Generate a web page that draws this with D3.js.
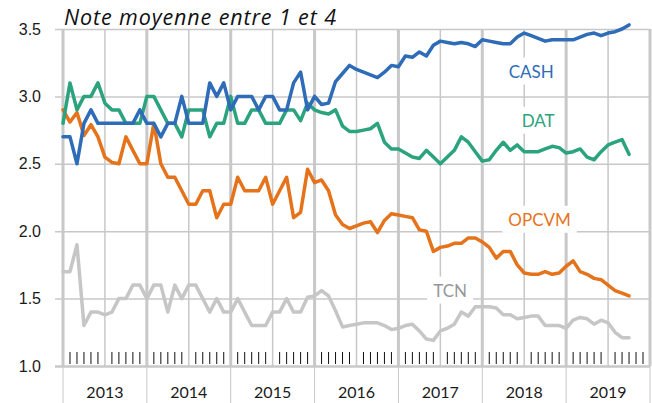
<!DOCTYPE html>
<html>
<head>
<meta charset="utf-8">
<script src="https://cdn.jsdelivr.net/npm/d3@7"></script>
<style>
  body { margin: 0; background: #fff; }
  svg { display: block; font-family: Lato, "Open Sans", sans-serif; }
</style>
</head>
<body>
<div id="chart"></div>
<script>
// monthly notes, Jan 2013 -> Oct 2019
var startYear = 2013;
var years = ['2013', '2014', '2015', '2016', '2017', '2018', '2019'];
var yTicks = [1.0, 1.5, 2.0, 2.5, 3.0, 3.5];

var cash = [
    2.7, 2.7, 2.5, 2.8, 2.9, 2.8, 2.8, 2.8, 2.8, 2.8, 2.8, 2.9,
    2.8, 2.8, 2.7, 2.8, 2.8, 3.0, 2.8, 2.8, 2.8, 3.1, 3.0, 3.1,
    2.9, 3.0, 3.0, 3.0, 2.9, 3.0, 3.0, 2.9, 2.9, 3.1, 3.18, 2.9,
    3.0, 2.94, 2.95, 3.11, 3.17, 3.23, 3.2, 3.18, 3.16, 3.14, 3.18, 3.23,
    3.22, 3.3, 3.29, 3.33, 3.3, 3.38, 3.41, 3.4, 3.39, 3.4, 3.39, 3.37,
    3.42, 3.41, 3.4, 3.39, 3.39, 3.44, 3.47, 3.45, 3.43, 3.41, 3.42, 3.42,
    3.42, 3.42, 3.44, 3.46, 3.47, 3.45, 3.47, 3.48, 3.5, 3.53
];
var dat = [
    2.8, 3.1, 2.9, 3.0, 3.0, 3.1, 2.95, 2.9, 2.9, 2.8, 2.8, 2.8,
    3.0, 3.0, 2.9, 2.8, 2.8, 2.7, 2.9, 2.9, 2.9, 2.7, 2.8, 2.8,
    3.0, 2.8, 2.8, 2.9, 2.9, 2.8, 2.8, 2.8, 2.9, 2.9, 2.82, 2.95,
    2.9, 2.88, 2.87, 2.9, 2.78, 2.74, 2.74, 2.75, 2.76, 2.8, 2.66, 2.61,
    2.61, 2.58, 2.55, 2.54, 2.6, 2.55, 2.5, 2.55, 2.6, 2.7, 2.66, 2.59,
    2.52, 2.53, 2.6, 2.66, 2.6, 2.64, 2.59, 2.59, 2.59, 2.61, 2.63, 2.62,
    2.58, 2.59, 2.61, 2.55, 2.53, 2.59, 2.64, 2.66, 2.68, 2.57
];
var opcvm = [
    2.9, 2.81, 2.88, 2.71, 2.79, 2.7, 2.55, 2.51, 2.5, 2.7, 2.6, 2.5,
    2.5, 2.8, 2.5, 2.4, 2.4, 2.3, 2.2, 2.2, 2.3, 2.3, 2.1, 2.2,
    2.2, 2.4, 2.3, 2.3, 2.3, 2.4, 2.2, 2.3, 2.4, 2.1, 2.14, 2.46,
    2.36, 2.38, 2.3, 2.12, 2.05, 2.02, 2.04, 2.06, 2.07, 1.99, 2.08, 2.13,
    2.12, 2.11, 2.1, 2.01, 2.0, 1.85, 1.88, 1.89, 1.91, 1.91, 1.95, 1.95,
    1.92, 1.88, 1.8, 1.85, 1.85, 1.75, 1.69, 1.68, 1.68, 1.7, 1.68, 1.69,
    1.74, 1.78, 1.7, 1.68, 1.65, 1.64, 1.6, 1.56, 1.54, 1.52
];
var tcn = [
    1.7, 1.7, 1.9, 1.3, 1.4, 1.4, 1.38, 1.4, 1.5, 1.5, 1.6, 1.6,
    1.5, 1.6, 1.6, 1.4, 1.6, 1.5, 1.6, 1.6, 1.5, 1.4, 1.5, 1.4,
    1.4, 1.5, 1.4, 1.3, 1.3, 1.3, 1.4, 1.4, 1.5, 1.4, 1.4, 1.51,
    1.52, 1.56, 1.52, 1.41, 1.29, 1.3, 1.31, 1.32, 1.32, 1.32, 1.3, 1.27,
    1.28, 1.3, 1.31, 1.26, 1.2, 1.19, 1.26, 1.28, 1.31, 1.4, 1.37, 1.44,
    1.44, 1.44, 1.43, 1.38, 1.38, 1.35, 1.36, 1.37, 1.37, 1.3, 1.3, 1.3,
    1.28, 1.34, 1.36, 1.35, 1.31, 1.34, 1.32, 1.25, 1.21, 1.21
];

var svgSize = {
    width: 652,
    height: 403,
    margin: {top: 29, right: 2, bottom: 37, left: 63}
};

// label anchor is (month index, value)
var seriesList = [
    {name: 'TCN',   values: tcn,   color: '#c6c6c6', text: '#979797', lx: 55.4, ly: 1.515},
    {name: 'OPCVM', values: opcvm, color: '#e5731b', text: '#e5731b', lx: 68.2, ly: 2.04},
    {name: 'DAT',   values: dat,   color: '#2ba37e', text: '#2ba37e', lx: 68.0, ly: 2.775},
    {name: 'CASH',  values: cash,  color: '#2e6cb8', text: '#2e6cb8', lx: 67.0, ly: 3.14}
];

var nMonths = years.length * 12;
var width = svgSize.width - svgSize.margin.left - svgSize.margin.right;
var height = svgSize.height - svgSize.margin.top - svgSize.margin.bottom;

var svg = d3.select('#chart').append('svg')
    .attr('width', svgSize.width)
    .attr('height', svgSize.height);

var g = svg.append('g')
    .attr('transform', 'translate(' + svgSize.margin.left + ',' + svgSize.margin.top + ')');

var x = d3.scaleLinear().domain([0, nMonths]).range([0, width]);
var y = d3.scaleLinear().domain([1, 3.5]).range([height, 0]);

var gridColor = '#c8c8c8';

// horizontal grid + y labels
var yAxis = g.append('g')
    .call(d3.axisLeft(y).tickValues(yTicks).tickFormat(d3.format('.1f'))
        .tickSizeInner(-width).tickSizeOuter(0).tickPadding(22));
yAxis.select('.domain').remove();
yAxis.selectAll('line')
    .attr('x1', -8)
    .attr('stroke', gridColor)
    .attr('stroke-width', function(d) { return d === 1 ? 2.5 : 1.5; });
yAxis.selectAll('text')
    .attr('fill', '#1a1a1a')
    .style('font-size', '16px');

// vertical grid: thick at years, thin at mid-year
var vg = g.append('g');
vg.selectAll('line')
    .data(d3.range(0, nMonths + 1, 6))
    .enter().append('line')
    .attr('x1', function(d) { return x(d); })
    .attr('x2', function(d) { return x(d); })
    .attr('y1', 0)
    .attr('y2', height)
    .attr('stroke', gridColor)
    .attr('stroke-width', function(d) { return d % 12 === 0 ? 3 : 1.5; });

// year separators under the axis
vg.append('g').selectAll('line')
    .data(d3.range(0, nMonths + 1, 12))
    .enter().append('line')
    .attr('x1', function(d) { return x(d); })
    .attr('x2', function(d) { return x(d); })
    .attr('y1', height)
    .attr('y2', height + 40)
    .attr('stroke', gridColor)
    .attr('stroke-width', 1);

// monthly minor ticks
g.append('g').selectAll('line')
    .data(d3.range(1, nMonths).filter(function(d) { return d % 6 !== 0; }))
    .enter().append('line')
    .attr('x1', function(d) { return x(d); })
    .attr('x2', function(d) { return x(d); })
    .attr('y1', height - 14)
    .attr('y2', height - 2)
    .attr('stroke', '#111')
    .attr('stroke-width', 1);

// year labels
g.append('g').selectAll('text')
    .data(years)
    .enter().append('text')
    .attr('x', function(d, i) { return x(i * 12 + 6); })
    .attr('y', height + 32)
    .attr('text-anchor', 'middle')
    .attr('fill', '#1a1a1a')
    .style('font-size', '16px')
    .text(function(d) { return d; });

// lines
var line = d3.line()
    .x(function(d, i) { return x(i); })
    .y(function(d) { return y(d); });

var lines = g.append('g').attr('id', 'lines');
seriesList.forEach(function(s) {
    lines.append('path')
        .datum(s.values)
        .attr('fill', 'none')
        .attr('stroke', s.color)
        .attr('stroke-width', 3.5)
        .attr('stroke-linejoin', 'round')
        .attr('stroke-linecap', 'round')
        .attr('d', line);
});

// direct labels with white boxes
var labels = g.append('g').attr('id', 'labels');
seriesList.forEach(function(s) {
    var lg = labels.append('g');
    var rect = lg.append('rect').attr('fill', '#fff');
    var t = lg.append('text')
        .attr('x', x(s.lx))
        .attr('y', y(s.ly))
        .attr('text-anchor', 'middle')
        .attr('fill', s.text)
        .style('font-size', '17px')
        .text(s.name);
    var bb = t.node().getBBox();
    rect.attr('x', bb.x - 6)
        .attr('y', bb.y - 3)
        .attr('width', bb.width + 12)
        .attr('height', bb.height + 6);
});

// title (Avenir-like oblique, wider than Lato)
svg.append('text')
    .attr('x', 64)
    .attr('y', 25)
    .attr('fill', '#111')
    .attr('textLength', 272)
    .attr('lengthAdjust', 'spacing')
    .style('font-family', '"Open Sans", Lato, sans-serif')
    .style('font-size', '21.5px')
    .style('font-style', 'italic')
    .text('Note moyenne entre 1 et 4');
</script>
</body>
</html>
